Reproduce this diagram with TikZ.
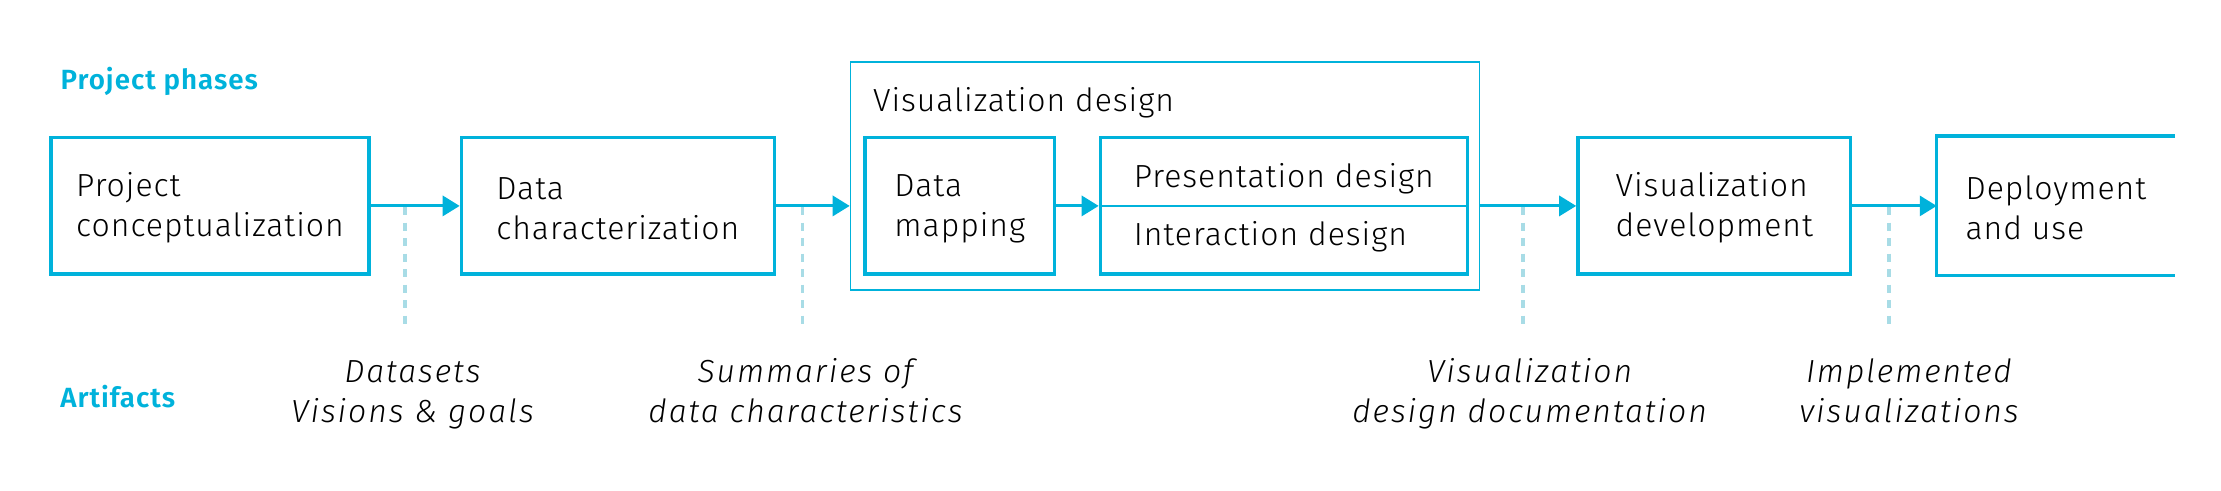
\documentclass[tikz,border=0pt]{standalone}
\usepackage{fontspec}
\setmainfont{Fira Sans Light}[
    ItalicFont={Fira Sans Light Italic},
    BoldFont={Fira Sans SemiBold},
    UprightFeatures={LetterSpace=3},
    ItalicFeatures={LetterSpace=6},
    BoldFeatures={LetterSpace=3.5}]
\usepackage{xcolor}
\usepackage{tikz}
\usetikzlibrary{positioning,calc,arrows.meta}

\definecolor{phasecyan}{RGB}{0,178,219}
\definecolor{tracecyan}{RGB}{168,220,230}
\newcommand{\mainsize}{\fontsize{9.1}{11.4}\selectfont}
\newcommand{\headsize}{\fontsize{7.9}{9.5}\selectfont}

\begin{document}
\begin{tikzpicture}[
    phase/.style={draw=phasecyan, line width=0.95pt, minimum height=1.363cm, inner sep=0pt, align=left, font=\mainsize},
    flow/.style={phasecyan, line width=0.9pt, -{Triangle[length=1.7mm,width=2mm]}},
    trace/.style={tracecyan, line width=1.1pt, dash pattern=on 0.8mm off 0.75mm},
    artifact/.style={font=\mainsize\itshape, align=center, anchor=north, inner sep=0pt},
    heading/.style={font=\headsize\bfseries, text=phasecyan, anchor=base west, inner sep=0pt}]
    \useasboundingbox (0,0) rectangle (22.21,-4.90);

    % row headings
    \node[heading] (phases) at (0.60,-0.893) {Project phases};
    \node[heading] (artifacts) at (0.596,-4.073) {Artifacts};

    % visualization design group
    \node[draw=phasecyan, line width=0.45pt, minimum width=6.29cm, minimum height=2.283cm, inner sep=0pt] (vizdesign) at (11.65,-1.7585) {};
    \node[font=\mainsize, anchor=base west, inner sep=0pt] (vizlabel) at (8.724,-1.117) {Visualization design};

    % phases
    \node[phase, minimum width=3.18cm] (b1) at (2.10,-2.059) {\strut Project\\conceptualization};
    \node[phase, minimum width=3.13cm, right=0.89cm of b1] (b2) {\strut Data\\characterization};
    \node[phase, minimum width=1.896cm] (b3) at (9.598,-2.059) {\strut Data\\mapping};
    \node[phase, minimum width=3.67cm, right=0.424cm of b3] (b4) {\strut Presentation design\\[5pt]Interaction design};
    \draw[phasecyan, line width=0.45pt] (b4.west) -- (b4.east);
    \node[phase, minimum width=2.729cm] (b5) at (17.143,-2.059) {\strut Visualization\\development};
    \node[phase, draw=none, minimum width=2.35cm, right=0.843cm of b5] (b6) {\strut Deployment\\and use};
    \draw[phasecyan, line width=0.95pt] (b6.north east) -- (b6.north west) -- (b6.south west) -- (b6.south east);

    \draw[flow] (b1) -- (b2);
    \draw[flow] (b2.east) -- (b2.east -| vizdesign.west);
    \draw[flow] (b3) -- (b4);
    \draw[flow] (b4.east -| vizdesign.east) -- (b5);
    \draw[flow] (b5) -- (b6.west);

    % artifacts
    \coordinate (d1) at (4.046,-2.07);
    \coordinate (d2) at (8.025,-2.07);
    \coordinate (d3) at (15.23,-2.07);
    \coordinate (d4) at (18.89,-2.07);
    \draw[trace] (d1) -- ++(0,-1.23);
    \draw[trace] (d2) -- ++(0,-1.23);
    \draw[trace] (d3) -- ++(0,-1.23);
    \draw[trace] (d4) -- ++(0,-1.23);

    \node[artifact] (a1) at (4.125,-3.537) {\strut Datasets\\Visions \& goals};
    \node[artifact] (a2) at (8.055,-3.537) {\strut Summaries of\\data characteristics};
    \node[artifact] (a3) at (15.296,-3.537) {\strut Visualization\\design documentation};
    \node[artifact] (a4) at (19.09,-3.537) {\strut Implemented\\visualizations};
\end{tikzpicture}
\end{document}
